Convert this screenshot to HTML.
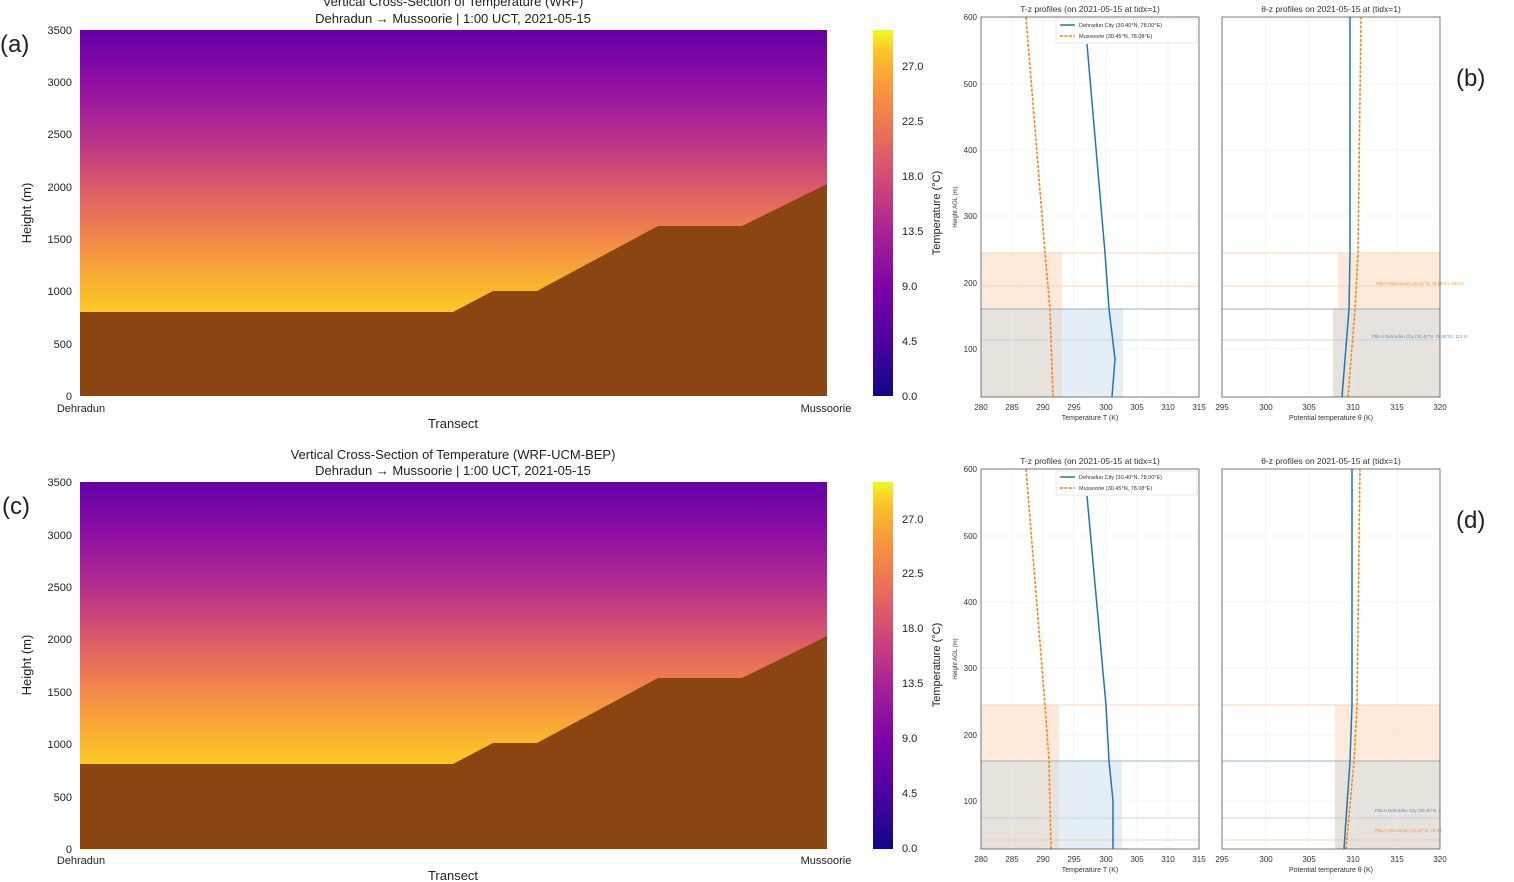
<!DOCTYPE html>
<html><head><meta charset="utf-8"><style>
html,body{margin:0;padding:0;background:#fff;}
svg{display:block;font-family:"Liberation Sans",sans-serif;}
.t{font-size:11px;fill:#222}
.s{font-size:8px;fill:#333}
</style></head><body>
<svg width="1514" height="882" viewBox="0 0 1514 882" xmlns="http://www.w3.org/2000/svg">
<defs>
<linearGradient id="fld" gradientUnits="userSpaceOnUse" x1="0" y1="30" x2="0" y2="312">
<stop offset="0" stop-color="#6400a7"/><stop offset="0.18" stop-color="#8d0ea4"/>
<stop offset="0.35" stop-color="#b02a90"/><stop offset="0.48" stop-color="#cc4778"/>
<stop offset="0.58" stop-color="#de6165"/><stop offset="0.68" stop-color="#ec7853"/>
<stop offset="0.78" stop-color="#f59343"/><stop offset="0.88" stop-color="#f9ad32"/>
<stop offset="1" stop-color="#fdc926"/></linearGradient>
<linearGradient id="cb" x1="0" y1="1" x2="0" y2="0">
<stop offset="0" stop-color="#0d0887"/><stop offset="0.15" stop-color="#4c02a1"/>
<stop offset="0.3" stop-color="#7e03a8"/><stop offset="0.45" stop-color="#a92395"/>
<stop offset="0.55" stop-color="#c63e7f"/><stop offset="0.65" stop-color="#dc5c68"/>
<stop offset="0.75" stop-color="#ef7a50"/><stop offset="0.85" stop-color="#f89a3d"/>
<stop offset="0.94" stop-color="#fdc328"/>
<stop offset="1" stop-color="#f0f921"/></linearGradient>
</defs>

<!-- Panel A -->
<g>
<text x="453" y="6" text-anchor="middle" style="font-size:13px;fill:#222">Vertical Cross-Section of Temperature (WRF)</text>
<text x="453" y="23" text-anchor="middle" style="font-size:13px;fill:#222">Dehradun → Mussoorie | 1:00 UCT, 2021-05-15</text>
<text x="0" y="52" style="font-size:24px;fill:#222">(a)</text>
<rect x="80" y="30" width="747" height="366" fill="url(#fld)"/>
<path d="M80,312 L453,312 L493,291 L537,291 L658,226 L742,226 L827,184 L827,396 L80,396 Z" fill="#8b4513"/>
<g class="t" text-anchor="end">
<text x="72" y="400">0</text><text x="72" y="348">500</text><text x="72" y="295">1000</text>
<text x="72" y="243">1500</text><text x="72" y="191">2000</text><text x="72" y="138">2500</text>
<text x="72" y="86">3000</text><text x="72" y="34">3500</text></g>
<text x="81" y="412" class="t" text-anchor="middle">Dehradun</text>
<text x="826" y="412" class="t" text-anchor="middle">Mussoorie</text>
<text x="453" y="428" text-anchor="middle" style="font-size:13px;fill:#222">Transect</text>
<text transform="translate(31,213) rotate(-90)" text-anchor="middle" style="font-size:13px;fill:#222">Height (m)</text>
<rect x="873" y="30" width="20" height="366" fill="url(#cb)"/>
<g class="t"><text x="902" y="400">0.0</text><text x="902" y="345">4.5</text><text x="902" y="290">9.0</text>
<text x="902" y="235">13.5</text><text x="902" y="180">18.0</text><text x="902" y="125">22.5</text><text x="902" y="70">27.0</text></g>
<text transform="translate(940,213) rotate(-90)" text-anchor="middle" style="font-size:11px;fill:#222">Temperature (°C)</text>
</g>

<!-- Panel C -->
<g transform="translate(0,452)">
<text x="453" y="7" text-anchor="middle" style="font-size:13px;fill:#222">Vertical Cross-Section of Temperature (WRF-UCM-BEP)</text>
<text x="453" y="23" text-anchor="middle" style="font-size:13px;fill:#222">Dehradun → Mussoorie | 1:00 UCT, 2021-05-15</text>
<text x="2" y="62" style="font-size:24px;fill:#222">(c)</text>
<rect x="80" y="30" width="747" height="367" fill="url(#fld)"/>
<path d="M80,312 L453,312 L493,291 L537,291 L658,226 L742,226 L827,184 L827,397 L80,397 Z" fill="#8b4513"/>
<g class="t" text-anchor="end">
<text x="72" y="401">0</text><text x="72" y="349">500</text><text x="72" y="296">1000</text>
<text x="72" y="244">1500</text><text x="72" y="191">2000</text><text x="72" y="139">2500</text>
<text x="72" y="87">3000</text><text x="72" y="34">3500</text></g>
<text x="81" y="412" class="t" text-anchor="middle">Dehradun</text>
<text x="826" y="412" class="t" text-anchor="middle">Mussoorie</text>
<text x="453" y="428" text-anchor="middle" style="font-size:13px;fill:#222">Transect</text>
<text transform="translate(31,213) rotate(-90)" text-anchor="middle" style="font-size:13px;fill:#222">Height (m)</text>
<rect x="873" y="30" width="20" height="367" fill="url(#cb)"/>
<g class="t"><text x="902" y="400">0.0</text><text x="902" y="345">4.5</text><text x="902" y="290">9.0</text>
<text x="902" y="235">13.5</text><text x="902" y="180">18.0</text><text x="902" y="125">22.5</text><text x="902" y="71">27.0</text></g>
<text transform="translate(940,213) rotate(-90)" text-anchor="middle" style="font-size:11px;fill:#222">Temperature (°C)</text>
</g>

<!-- Panel B -->
<g>
<text x="1090" y="12" text-anchor="middle" class="s" style="font-size:8.5px">T-z profiles (on 2021-05-15 at tidx=1)</text>
<text x="1331" y="12" text-anchor="middle" class="s" style="font-size:8.5px">θ-z profiles on 2021-05-15 at (tidx=1)</text>
<text x="1456" y="86" style="font-size:24px;fill:#222">(b)</text>
<rect x="981" y="253" width="81" height="56" fill="#fdeadb"/>
<rect x="981" y="309" width="81" height="88" fill="#e7e2dc"/>
<rect x="1062" y="309" width="61" height="88" fill="#e4eef7"/>
<rect x="1338" y="253" width="102" height="56" fill="#fdeadb"/>
<rect x="1333" y="309" width="107" height="88" fill="#e7e2dc"/>
<g stroke="#ececec" stroke-width="0.6">
<path d="M1012,17V397M1043,17V397M1074,17V397M1106,17V397M1137,17V397M1168,17V397M981,349H1199M981,283H1199M981,216H1199M981,150H1199M981,84H1199"/>
<path d="M1266,17V397M1309,17V397M1353,17V397M1397,17V397M1222,349H1440M1222,283H1440M1222,216H1440M1222,150H1440M1222,84H1440"/>
</g>
<g stroke-width="0.8" fill="none">
<path d="M981,253H1199M1222,253H1440M981,286H1199M1222,286H1440" stroke="#f5c9a0"/>
<path d="M981,309H1199M1222,309H1440" stroke="#7a9cba"/>
<path d="M981,340H1199M1222,340H1440" stroke="#b5cde2"/>
</g>
<text x="1376" y="285" class="s" style="font-size:4.5px;fill:#f29a4a">PBLH Mussoorie (30.45°N, 78.08°E): 193 m</text>
<text x="1372" y="338" class="s" style="font-size:4.5px;fill:#5a8fc0">PBLH Dehradun City (30.40°N, 78.00°E): 113 m</text>
<path d="M1112,397 L1115,359 L1109,309 L1105,253 L1087,44" stroke="#1f77b4" stroke-width="1.5" fill="none"/>
<path d="M1053,397 L1050,309 L1045,253 L1026,17" stroke="#ff7f0e" stroke-width="1.5" stroke-dasharray="3,1.5" fill="none"/>
<path d="M1342,397 L1349,309 L1350,253 L1350,17" stroke="#1f77b4" stroke-width="1.5" fill="none"/>
<path d="M1348,397 L1355,309 L1358,253 L1361,17" stroke="#ff7f0e" stroke-width="1.5" stroke-dasharray="3,1.5" fill="none"/>
<rect x="981" y="17" width="218" height="380" fill="none" stroke="#555" stroke-width="0.8"/>
<rect x="1222" y="17" width="218" height="380" fill="none" stroke="#555" stroke-width="0.8"/>
<rect x="1056" y="19" width="141" height="24" fill="#fff" fill-opacity="0.9" stroke="#ddd" stroke-width="0.6"/>
<line x1="1060" y1="25" x2="1075" y2="25" stroke="#1f77b4" stroke-width="1.5"/>
<line x1="1060" y1="36" x2="1075" y2="36" stroke="#ff7f0e" stroke-width="1.5" stroke-dasharray="3,1.5"/>
<text x="1079" y="27" class="s" style="font-size:5.5px">Dehradun City (30.40°N, 78.00°E)</text>
<text x="1079" y="38" class="s" style="font-size:5.5px">Mussoorie (30.45°N, 78.08°E)</text>
<g class="s" text-anchor="middle">
<text x="981" y="410">280</text><text x="1012" y="410">285</text><text x="1043" y="410">290</text><text x="1074" y="410">295</text><text x="1106" y="410">300</text><text x="1137" y="410">305</text><text x="1168" y="410">310</text><text x="1199" y="410">315</text>
<text x="1222" y="410">295</text><text x="1266" y="410">300</text><text x="1309" y="410">305</text><text x="1353" y="410">310</text><text x="1397" y="410">315</text><text x="1440" y="410">320</text>
<text x="1090" y="420" style="font-size:7px">Temperature T (K)</text><text x="1331" y="420" style="font-size:7px">Potential temperature θ (K)</text>
</g>
<g class="s" text-anchor="end">
<text x="977" y="352">100</text><text x="977" y="286">200</text><text x="977" y="219">300</text><text x="977" y="153">400</text><text x="977" y="87">500</text><text x="977" y="20">600</text></g>
<text transform="translate(957,207) rotate(-90)" text-anchor="middle" class="s" style="font-size:6px">Height AGL (m)</text>
</g>

<!-- Panel D -->
<g transform="translate(0,452)">
<text x="1090" y="12" text-anchor="middle" class="s" style="font-size:8.5px">T-z profiles (on 2021-05-15 at tidx=1)</text>
<text x="1331" y="12" text-anchor="middle" class="s" style="font-size:8.5px">θ-z profiles on 2021-05-15 at (tidx=1)</text>
<text x="1456" y="76" style="font-size:24px;fill:#222">(d)</text>
<rect x="981" y="253" width="78" height="56" fill="#fdeadb"/>
<rect x="981" y="309" width="78" height="88" fill="#e7e2dc"/>
<rect x="1059" y="309" width="63" height="88" fill="#e4eef7"/>
<rect x="1335" y="253" width="105" height="56" fill="#fdeadb"/>
<rect x="1335" y="309" width="105" height="88" fill="#e7e2dc"/>
<g stroke="#ececec" stroke-width="0.6">
<path d="M1012,17V397M1043,17V397M1074,17V397M1106,17V397M1137,17V397M1168,17V397M981,349H1199M981,283H1199M981,216H1199M981,150H1199M981,84H1199"/>
<path d="M1266,17V397M1309,17V397M1353,17V397M1397,17V397M1222,349H1440M1222,283H1440M1222,216H1440M1222,150H1440M1222,84H1440"/>
</g>
<g stroke-width="0.8" fill="none">
<path d="M981,253H1199M1222,253H1440M981,388H1199M1222,388H1440" stroke="#f5c9a0"/>
<path d="M981,309H1199M1222,309H1440" stroke="#7a9cba"/>
<path d="M981,366H1199M1222,366H1440" stroke="#b5cde2"/>
</g>
<text x="1375" y="360" class="s" style="font-size:4.5px;fill:#5a8fc0">PBLH Dehradun City (30.40°N, 7</text>
<text x="1375" y="380" class="s" style="font-size:4.5px;fill:#f29a4a">PBLH Mussoorie (30.45°N, 78.08</text>
<path d="M1113,397 L1113,349 L1109,309 L1106,253 L1087,44" stroke="#1f77b4" stroke-width="1.5" fill="none"/>
<path d="M1051,397 L1049,309 L1045,253 L1026,17" stroke="#ff7f0e" stroke-width="1.5" stroke-dasharray="3,1.5" fill="none"/>
<path d="M1344,397 L1350,309 L1352,253 L1352,17" stroke="#1f77b4" stroke-width="1.5" fill="none"/>
<path d="M1346,397 L1354,309 L1357,253 L1360,17" stroke="#ff7f0e" stroke-width="1.5" stroke-dasharray="3,1.5" fill="none"/>
<rect x="981" y="17" width="218" height="380" fill="none" stroke="#555" stroke-width="0.8"/>
<rect x="1222" y="17" width="218" height="380" fill="none" stroke="#555" stroke-width="0.8"/>
<rect x="1056" y="19" width="141" height="24" fill="#fff" fill-opacity="0.9" stroke="#ddd" stroke-width="0.6"/>
<line x1="1060" y1="25" x2="1075" y2="25" stroke="#1f77b4" stroke-width="1.5"/>
<line x1="1060" y1="36" x2="1075" y2="36" stroke="#ff7f0e" stroke-width="1.5" stroke-dasharray="3,1.5"/>
<text x="1079" y="27" class="s" style="font-size:5.5px">Dehradun City (30.40°N, 78.00°E)</text>
<text x="1079" y="38" class="s" style="font-size:5.5px">Mussoorie (30.45°N, 78.08°E)</text>
<g class="s" text-anchor="middle">
<text x="981" y="410">280</text><text x="1012" y="410">285</text><text x="1043" y="410">290</text><text x="1074" y="410">295</text><text x="1106" y="410">300</text><text x="1137" y="410">305</text><text x="1168" y="410">310</text><text x="1199" y="410">315</text>
<text x="1222" y="410">295</text><text x="1266" y="410">300</text><text x="1309" y="410">305</text><text x="1353" y="410">310</text><text x="1397" y="410">315</text><text x="1440" y="410">320</text>
<text x="1090" y="420" style="font-size:7px">Temperature T (K)</text><text x="1331" y="420" style="font-size:7px">Potential temperature θ (K)</text>
</g>
<g class="s" text-anchor="end">
<text x="977" y="352">100</text><text x="977" y="286">200</text><text x="977" y="219">300</text><text x="977" y="153">400</text><text x="977" y="87">500</text><text x="977" y="20">600</text></g>
<text transform="translate(957,207) rotate(-90)" text-anchor="middle" class="s" style="font-size:6px">Height AGL (m)</text>
</g>
</svg>
</body></html>
